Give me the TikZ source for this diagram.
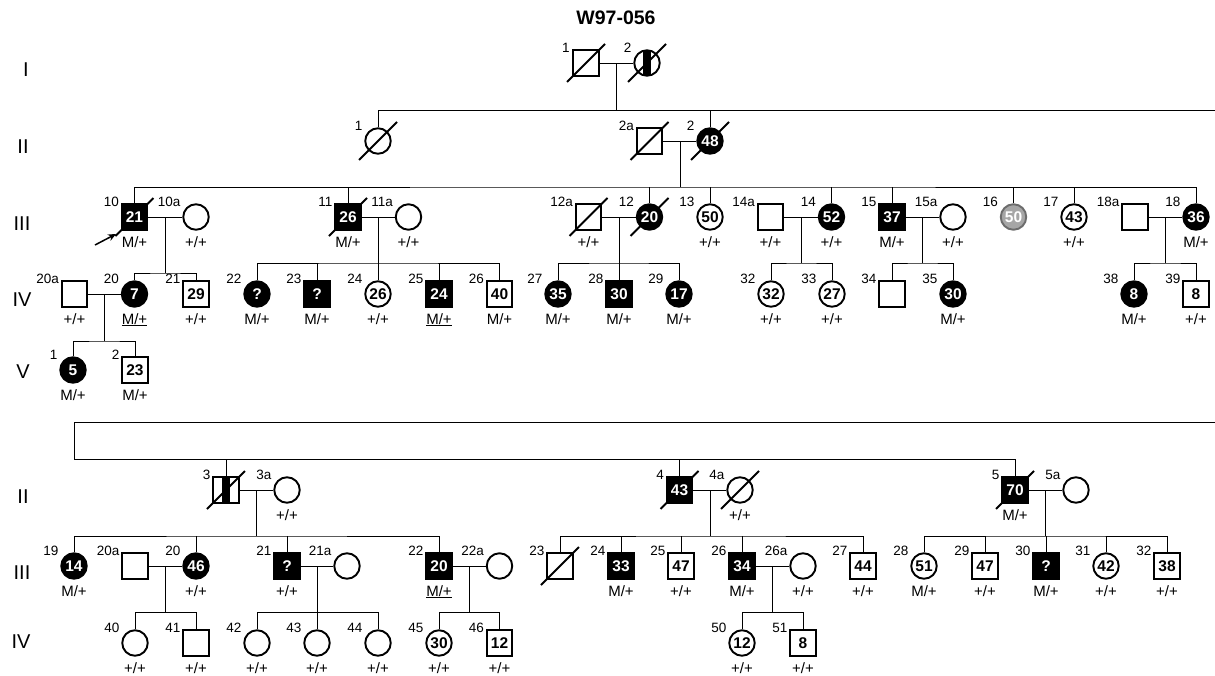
\documentclass[tikz,border=0pt]{standalone}
\usepackage{fontspec}
\setmainfont{Liberation Sans}
\usetikzlibrary{calc,backgrounds,arrows.meta}
\newcommand\per[6]{\node[#4] (#1) at (#2,#3) {#5};\node[idl] (#1id) at (#2-15.5,#3-11) {#6};}
\newcommand\gtp[2]{\node[gtl] (#1gt) at ($(#1)+(0,30)$) {#2};}
\newcommand\dcd[1]{\begin{pgfonlayer}{background}\draw[slashl] ($(#1)+(-19,19)$) -- ($(#1)+(19,-19)$);\end{pgfonlayer}}
\begin{document}
\begin{tikzpicture}[x=1pt,y=-1pt,line width=1.9pt,
 sq/.style={rectangle,draw,minimum width=25.5pt,minimum height=25.5pt,inner sep=0pt,line width=1.9pt,font=\bfseries\fontsize{15.5}{16}\selectfont},
 ci/.style={circle,draw,minimum size=25.5pt,inner sep=0pt,line width=1.9pt,font=\bfseries\fontsize{15.5}{16}\selectfont},
 aff/.style={fill=black,text=white},
 gry/.style={fill=gray!70,draw=gray!85!black,text=white},
 barf/.style={path picture={\fill[black] ([xshift=-4pt]path picture bounding box.south) rectangle ([xshift=4pt]path picture bounding box.north);}},
 idl/.style={anchor=base east,inner sep=0pt,font=\fontsize{13.5}{14}\selectfont},
 gtl/.style={anchor=base,inner sep=0pt,font=\fontsize{15}{16}\selectfont},
 genl/.style={inner sep=0pt,font=\fontsize{20}{21}\selectfont},
 slashl/.style={line width=1.9pt}]
\useasboundingbox (0,0) rectangle (1215,675);
\node[font=\bfseries\fontsize{19.5}{20}\selectfont] (title) at (616,18) {W97-056};
% generation labels
\node[genl] (gI) at (26,70) {I};
\node[genl] (gII) at (23,147) {II};
\node[genl] (gIII) at (22,224) {III};
\node[genl] (gIV) at (22,300) {IV};
\node[genl] (gV) at (23,372) {V};
\node[genl] (bgII) at (23,497) {II};
\node[genl] (bgIII) at (22,573) {III};
\node[genl] (bgIV) at (21,642) {IV};
% ---------- Generation I
\per{I1}{586}{63}{sq}{}{1} \dcd{I1}
\per{I2}{647}{63}{ci,barf}{}{2} \dcd{I2}
\draw (I1.east) -- (I2.west);
\coordinate (cI) at ($(I1.east)!.5!(I2.west)$);
\coordinate (s1) at ($(cI)+(0,47)$);
\coordinate (rt) at (1215,110);
% ---------- Generation II (top)
\per{II1}{378}{141}{ci}{}{1} \dcd{II1}
\per{II2a}{649.5}{141}{sq}{}{2a} \dcd{II2a}
\per{II2}{710}{141}{ci,aff}{48}{2} \dcd{II2}
\draw (cI) -- (s1);
\draw (II1.north) |- (rt);
\draw (II2.north) -- (II2.north |- s1);
\draw (II2a.east) -- (II2.west);
\coordinate (cII) at ($(II2a.east)!.5!(II2.west)$);
\coordinate (s2) at ($(cII)+(0,46)$);
% ---------- Generation III (top)
\per{t10}{134.5}{217}{sq,aff}{21}{10} \dcd{t10} \gtp{t10}{M/+}
\per{t10a}{196}{217}{ci}{}{10a} \gtp{t10a}{+/+}
\per{t11}{348}{217}{sq,aff}{26}{11} \dcd{t11} \gtp{t11}{M/+}
\per{t11a}{408.5}{217}{ci}{}{11a} \gtp{t11a}{+/+}
\per{t12a}{588.5}{217}{sq}{}{12a} \dcd{t12a} \gtp{t12a}{+/+}
\per{t12}{649.5}{217}{ci,aff}{20}{12} \dcd{t12}
\per{t13}{710}{217}{ci}{50}{13} \gtp{t13}{+/+}
\per{t14a}{770.5}{217}{sq}{}{14a} \gtp{t14a}{+/+}
\per{t14}{831.5}{217}{ci,aff}{52}{14} \gtp{t14}{+/+}
\per{t15}{892}{217}{sq,aff}{37}{15} \gtp{t15}{M/+}
\per{t15a}{953}{217}{ci}{}{15a} \gtp{t15a}{+/+}
\per{t16}{1013.5}{217}{ci,gry}{50}{16}
\per{t17}{1074}{217}{ci}{43}{17} \gtp{t17}{+/+}
\per{t18a}{1135}{217}{sq}{}{18a}
\per{t18}{1196}{217}{ci,aff}{36}{18} \gtp{t18}{M/+}
\draw (cII) -- (s2);
\draw (t10.north) |- (s2) -| (t18.north);
\foreach \n in {t11,t12,t13,t14,t15,t16,t17} \draw (\n.north) -- (\n.north |- s2);
% proband arrow
\coordinate (pa) at (95,245);
\coordinate (pb) at (116,234);
\draw[-{Stealth[length=8pt,width=7pt]},line width=1.5pt] (pa) -- (pb);
% ---------- Generation IV (top)
\per{t20a}{74.5}{294}{sq}{}{20a} \gtp{t20a}{+/+}
\per{t20}{134.5}{294}{ci,aff}{7}{20} \gtp{t20}{\underline{M/+}}
\per{t21}{196}{294}{sq}{29}{21} \gtp{t21}{+/+}
\per{t22}{257}{294}{ci,aff}{?}{22} \gtp{t22}{M/+}
\per{t23}{317}{294}{sq,aff}{?}{23} \gtp{t23}{M/+}
\per{t24}{378}{294}{ci}{26}{24} \gtp{t24}{+/+}
\per{t25}{439}{294}{sq,aff}{24}{25} \gtp{t25}{\underline{M/+}}
\per{t26}{499.5}{294}{sq}{40}{26} \gtp{t26}{M/+}
\per{t27}{558}{294}{ci,aff}{35}{27} \gtp{t27}{M/+}
\per{t28}{619}{294}{sq,aff}{30}{28} \gtp{t28}{M/+}
\per{t29}{679}{294}{ci,aff}{17}{29} \gtp{t29}{M/+}
\per{t32}{771}{294}{ci}{32}{32} \gtp{t32}{+/+}
\per{t33}{832}{294}{ci}{27}{33} \gtp{t33}{+/+}
\per{t34}{892}{294}{sq}{}{34}
\per{t35}{953}{294}{ci,aff}{30}{35} \gtp{t35}{M/+}
\per{t38}{1134}{294}{ci,aff}{8}{38} \gtp{t38}{M/+}
\per{t39}{1196}{294}{sq}{8}{39} \gtp{t39}{+/+}
% couples gen III
\draw (t10.east) -- (t10a.west);
\coordinate (c10) at ($(t10.east)!.5!(t10a.west)$);
\coordinate (s10) at ($(c10)+(0,56)$);
\draw (c10) -- (s10);
\draw (t20.north) |- (s10) -| (t21.north);
\draw (t11.east) -- (t11a.west);
\coordinate (c11) at ($(t11.east)!.5!(t11a.west)$);
\coordinate (s11) at ($(c11)+(0,46)$);
\draw (c11) -- (s11);
\draw (t22.north) |- (s11) -| (t26.north);
\foreach \n in {t23,t24,t25} \draw (\n.north) -- (\n.north |- s11);
\draw (t12a.east) -- (t12.west);
\coordinate (c12) at ($(t12a.east)!.5!(t12.west)$);
\coordinate (s12) at ($(c12)+(0,46)$);
\draw (c12) -- (s12);
\draw (t27.north) |- (s12) -| (t29.north);
\draw (t28.north) -- (t28.north |- s12);
\draw (t14a.east) -- (t14.west);
\coordinate (c14) at ($(t14a.east)!.5!(t14.west)$);
\coordinate (s14) at ($(c14)+(0,46)$);
\draw (c14) -- (s14);
\draw (t32.north) |- (s14) -| (t33.north);
\draw (t15.east) -- (t15a.west);
\coordinate (c15) at ($(t15.east)!.5!(t15a.west)$);
\coordinate (s15) at ($(c15)+(0,46)$);
\draw (c15) -- (s15);
\draw (t34.north) |- (s15) -| (t35.north);
\draw (t18a.east) -- (t18.west);
\coordinate (c18) at ($(t18a.east)!.5!(t18.west)$);
\coordinate (s18) at ($(c18)+(0,46)$);
\draw (c18) -- (s18);
\draw (t38.north) |- (s18) -| (t39.north);
% ---------- Generation V
\per{v1}{73}{370}{ci,aff}{5}{1} \gtp{v1}{M/+}
\per{v2}{135}{370}{sq}{23}{2} \gtp{v2}{M/+}
\draw (t20a.east) -- (t20.west);
\coordinate (c20) at ($(t20a.east)!.5!(t20.west)$);
\coordinate (s20) at ($(c20)+(0,47)$);
\draw (c20) -- (s20);
\draw (v1.north) |- (s20) -| (v2.north);
% ================= bottom part
\coordinate (rb) at (1215,422);
\coordinate (lb) at (74,422);
\coordinate (lb2) at (74,459);
\per{b3}{226}{490}{sq,barf}{}{3} \dcd{b3}
\per{b3a}{287}{490}{ci}{}{3a} \gtp{b3a}{+/+}
\per{b4}{679.5}{490}{sq,aff}{43}{4} \dcd{b4}
\per{b4a}{740}{490}{ci}{}{4a} \dcd{b4a} \gtp{b4a}{+/+}
\per{b5}{1015}{490}{sq,aff}{70}{5} \dcd{b5} \gtp{b5}{M/+}
\per{b5a}{1076}{490}{ci}{}{5a}
\draw (rb) -- (lb) -- (lb2) -| (b5.north);
\draw (b3.north) -- (b3.north |- lb2);
\draw (b4.north) -- (b4.north |- lb2);
% gen III bottom
\per{b19}{74}{566}{ci,aff}{14}{19} \gtp{b19}{M/+}
\per{b20a}{135}{566}{sq}{}{20a}
\per{b20}{196}{566}{ci,aff}{46}{20} \gtp{b20}{+/+}
\per{b21}{287}{566}{sq,aff}{?}{21} \gtp{b21}{+/+}
\per{b21a}{347}{566}{ci}{}{21a}
\per{b22}{439}{566}{sq,aff}{20}{22} \gtp{b22}{\underline{M/+}}
\per{b22a}{499.5}{566}{ci}{}{22a}
\per{b23}{560}{566}{sq}{}{23} \dcd{b23}
\per{b24}{621}{566}{sq,aff}{33}{24} \gtp{b24}{M/+}
\per{b25}{681}{566}{sq}{47}{25} \gtp{b25}{+/+}
\per{b26}{742}{566}{sq,aff}{34}{26} \gtp{b26}{M/+}
\per{b26a}{803}{566}{ci}{}{26a} \gtp{b26a}{+/+}
\per{b27}{863}{566}{sq}{44}{27} \gtp{b27}{+/+}
\per{b28}{924}{566}{ci}{51}{28} \gtp{b28}{M/+}
\per{b29}{985}{566}{sq}{47}{29} \gtp{b29}{+/+}
\per{b30}{1046}{566}{sq,aff}{?}{30} \gtp{b30}{M/+}
\per{b31}{1106}{566}{ci}{42}{31} \gtp{b31}{+/+}
\per{b32}{1167}{566}{sq}{38}{32} \gtp{b32}{+/+}
\draw (b3.east) -- (b3a.west);
\coordinate (cb3) at ($(b3.east)!.5!(b3a.west)$);
\coordinate (sb3) at ($(cb3)+(0,46)$);
\draw (cb3) -- (sb3);
\draw (b19.north) |- (sb3) -| (b22.north);
\foreach \n in {b20,b21} \draw (\n.north) -- (\n.north |- sb3);
\draw (b4.east) -- (b4a.west);
\coordinate (cb4) at ($(b4.east)!.5!(b4a.west)$);
\coordinate (sb4) at ($(cb4)+(0,46)$);
\draw (cb4) -- (sb4);
\draw (b23.north) |- (sb4) -| (b27.north);
\foreach \n in {b24,b25,b26} \draw (\n.north) -- (\n.north |- sb4);
\draw (b5.east) -- (b5a.west);
\coordinate (cb5) at ($(b5.east)!.5!(b5a.west)$);
\coordinate (sb5) at ($(cb5)+(0,46)$);
\draw (cb5) -- (sb5);
\draw (b28.north) |- (sb5) -| (b32.north);
\foreach \n in {b29,b30,b31} \draw (\n.north) -- (\n.north |- sb5);
% gen IV bottom
\per{b40}{135}{643}{ci}{}{40} \gtp{b40}{+/+}
\per{b41}{196}{643}{sq}{}{41} \gtp{b41}{+/+}
\per{b42}{257}{643}{ci}{}{42} \gtp{b42}{+/+}
\per{b43}{317}{643}{ci}{}{43} \gtp{b43}{+/+}
\per{b44}{378}{643}{ci}{}{44} \gtp{b44}{+/+}
\per{b45}{439}{643}{ci}{30}{45} \gtp{b45}{+/+}
\per{b46}{499.5}{643}{sq}{12}{46} \gtp{b46}{+/+}
\per{b50}{742}{643}{ci}{12}{50} \gtp{b50}{+/+}
\per{b51}{803}{643}{sq}{8}{51} \gtp{b51}{+/+}
\draw (b20a.east) -- (b20.west);
\coordinate (cb20) at ($(b20a.east)!.5!(b20.west)$);
\coordinate (sb20) at ($(cb20)+(0,46)$);
\draw (cb20) -- (sb20);
\draw (b40.north) |- (sb20) -| (b41.north);
\draw (b21.east) -- (b21a.west);
\coordinate (cb21) at ($(b21.east)!.5!(b21a.west)$);
\coordinate (sb21) at ($(cb21)+(0,46)$);
\draw (cb21) -- (sb21);
\draw (b42.north) |- (sb21) -| (b44.north);
\draw (b43.north) -- (b43.north |- sb21);
\draw (b22.east) -- (b22a.west);
\coordinate (cb22) at ($(b22.east)!.5!(b22a.west)$);
\coordinate (sb22) at ($(cb22)+(0,46)$);
\draw (cb22) -- (sb22);
\draw (b45.north) |- (sb22) -| (b46.north);
\draw (b26.east) -- (b26a.west);
\coordinate (cb26) at ($(b26.east)!.5!(b26a.west)$);
\coordinate (sb26) at ($(cb26)+(0,46)$);
\draw (cb26) -- (sb26);
\draw (b50.north) |- (sb26) -| (b51.north);
\end{tikzpicture}
\end{document}
